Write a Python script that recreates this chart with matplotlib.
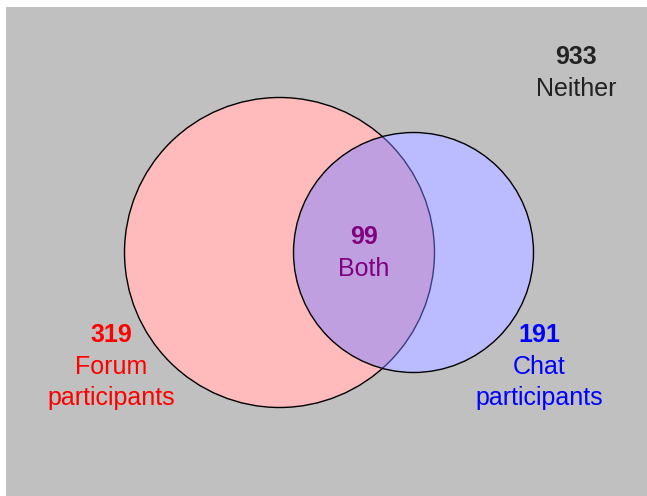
import matplotlib
matplotlib.use("Agg")
import matplotlib.pyplot as plt
from matplotlib.patches import Circle, Rectangle

plt.rcParams['font.family'] = ['Liberation Sans', 'DejaVu Sans']

# counts shown in the diagram
groups = ["Forum\nparticipants", "Chat\nparticipants", "Both", "Neither"]
counts = [319, 191, 99, 933]
text_colors = ["#ff0000", "#0000ff", "#800080", "#222222"]

# layout (pixel coordinates of the 647x496 canvas)
red_c, red_r = (279.5, 252.5), 155
blue_c, blue_r = (413.5, 252.5), 120
label_pos = [(111, 333), (539, 333), (364, 235), (576, 55)]
line_step = 31.5

fig = plt.figure(figsize=(6.47, 4.96), dpi=100)
ax = fig.add_axes([0, 0, 1, 1])
ax.set_xlim(0, 647)
ax.set_ylim(496, 0)
ax.axis("off")

ax.add_patch(Rectangle((6, 7), 647, 496, facecolor="#c0c0c0", edgecolor="none"))

red = Circle(red_c, red_r, facecolor="#ffbbbb", edgecolor="black", lw=1)
ax.add_patch(red)
blue = Circle(blue_c, blue_r, facecolor="#bbbbff", edgecolor="none")
ax.add_patch(blue)
both = Circle(blue_c, blue_r, facecolor="#bf9fdf", edgecolor="none")
ax.add_patch(both)
both.set_clip_path(red)
# red outline seen through the chat circle
inner = Circle(red_c, red_r, facecolor="none", edgecolor="#3c3c80", lw=1)
ax.add_patch(inner)
inner.set_clip_path(Circle(blue_c, blue_r, transform=ax.transData))
ax.add_patch(Circle(blue_c, blue_r, facecolor="none", edgecolor="black", lw=1))

for name, n, col, (x, y) in zip(groups, counts, text_colors, label_pos):
    ax.text(x, y, str(n), color=col, fontsize=18, fontweight="bold",
            ha="center", va="center_baseline")
    for i, line in enumerate(name.split("\n")):
        ax.text(x, y + line_step * (i + 1), line, color=col, fontsize=18,
                ha="center", va="center_baseline")

fig.savefig("out.png", dpi=100)
